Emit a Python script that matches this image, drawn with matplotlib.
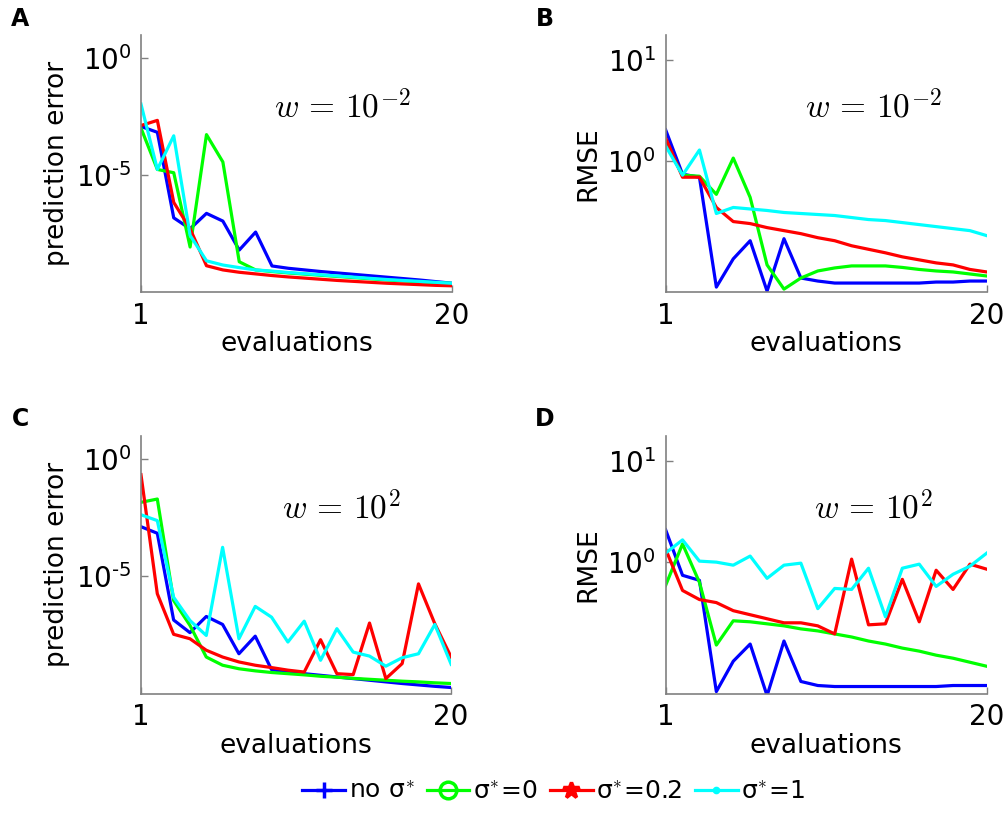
import matplotlib
matplotlib.use('Agg')
import matplotlib.pyplot as plt
import numpy as np

# evaluations 1..20
evals = list(range(1, 21))

# values are log10 of the plotted quantity
# panel A: prediction error, w = 1e-2
a_none = [-2.91, -3.16, -6.82, -7.29, -6.63, -6.96, -8.2, -7.43, -8.88, -8.98,
          -9.05, -9.12, -9.18, -9.24, -9.3, -9.36, -9.42, -9.48, -9.55, -9.62]
a_zero = [-2.98, -4.75, -4.89, -8.07, -3.26, -4.43, -8.7, -9.05, -9.12, -9.18,
          -9.23, -9.28, -9.33, -9.38, -9.43, -9.48, -9.52, -9.56, -9.6, -9.63]
a_02 = [-2.87, -2.65, -6.16, -7.29, -8.87, -9.05, -9.15, -9.22, -9.29, -9.35,
        -9.4, -9.45, -9.5, -9.54, -9.58, -9.62, -9.65, -9.68, -9.71, -9.73]
a_one = [-1.95, -4.75, -3.31, -7.57, -8.66, -8.84, -8.95, -9.05, -9.1, -9.16,
         -9.21, -9.26, -9.31, -9.36, -9.41, -9.46, -9.5, -9.54, -9.58, -9.62]

# panel B: RMSE, w = 1e-2
b_none = [0.31, -0.13, -0.16, -1.25, -0.97, -0.79, -1.29, -0.77, -1.16, -1.19,
          -1.21, -1.21, -1.21, -1.21, -1.21, -1.21, -1.2, -1.2, -1.19, -1.19]
b_zero = [0.18, -0.14, -0.15, -0.33, 0.03, -0.36, -1.03, -1.27, -1.16, -1.09,
          -1.06, -1.04, -1.04, -1.04, -1.055, -1.075, -1.09, -1.1, -1.12, -1.14]
b_02 = [0.23, -0.16, -0.16, -0.46, -0.6, -0.62, -0.66, -0.69, -0.72, -0.76,
        -0.79, -0.84, -0.875, -0.91, -0.95, -0.98, -1.01, -1.03, -1.075, -1.1]
b_one = [0.15, -0.14, 0.11, -0.52, -0.46, -0.475, -0.49, -0.51, -0.52, -0.53,
         -0.54, -0.56, -0.58, -0.59, -0.61, -0.63, -0.65, -0.67, -0.69, -0.74]

# panel C: prediction error, w = 1e2
c_none = [-2.88, -3.16, -6.86, -7.4, -6.71, -7.05, -8.3, -7.55, -8.98, -9.08,
          -9.15, -9.22, -9.29, -9.36, -9.43, -9.5, -9.57, -9.63, -9.69, -9.74]
c_zero = [-1.84, -1.7, -6.03, -7.09, -8.44, -8.79, -8.94, -9.03, -9.1, -9.15,
          -9.2, -9.26, -9.3, -9.35, -9.39, -9.43, -9.47, -9.5, -9.54, -9.57]
c_02 = [-0.66, -5.74, -7.47, -7.66, -8.15, -8.44, -8.65, -8.79, -8.89, -9.0,
        -9.08, -7.7, -9.15, -9.19, -6.99, -9.36, -8.72, -5.32, -7.02, -8.44]
c_one = [-2.37, -2.62, -5.89, -6.88, -7.52, -3.76, -7.66, -6.28, -6.74, -7.8,
         -6.91, -8.58, -7.23, -8.23, -8.4, -8.83, -8.47, -8.3, -7.05, -8.75]

# panel D: RMSE, w = 1e2
d_none = [0.32, -0.13, -0.18, -1.28, -0.98, -0.81, -1.32, -0.78, -1.18, -1.22,
          -1.23, -1.23, -1.23, -1.23, -1.23, -1.23, -1.23, -1.22, -1.22, -1.22]
d_zero = [-0.23, 0.18, -0.2, -0.82, -0.58, -0.59, -0.61, -0.63, -0.66, -0.68,
          -0.71, -0.74, -0.78, -0.81, -0.85, -0.88, -0.92, -0.95, -0.99, -1.03]
d_02 = [0.13, -0.28, -0.37, -0.4, -0.48, -0.52, -0.56, -0.6, -0.6, -0.63,
        -0.71, 0.03, -0.62, -0.61, -0.17, -0.59, -0.08, -0.27, -0.02, -0.07]
d_one = [0.09, 0.22, 0.01, 0.0, -0.03, 0.06, -0.16, -0.03, -0.01, -0.46,
         -0.26, -0.27, -0.06, -0.54, -0.06, -0.02, -0.24, -0.12, -0.04, 0.09]

labels = ['no σ$^{*}$', 'σ$^{*}$=0', 'σ$^{*}$=0.2', 'σ$^{*}$=1']
colors = ['#0000ff', '#00ff00', '#ff0000', '#00ffff']
markers = ['+', 'o', '*', '.']

# tick labels, hyphen in the exponent like the original
err_ticks = [1e-5, 1e0]
err_ticklabels = ['$\\mathdefault{10^{\u20105}}$', '$\\mathdefault{10^{0}}$']
rmse_ticks = [1e0, 1e1]
rmse_ticklabels = ['$\\mathdefault{10^{0}}$', '$\\mathdefault{10^{1}}$']

plt.rcParams['mathtext.fontset'] = 'cm'
plt.rcParams['font.family'] = 'DejaVu Sans'

fig = plt.figure(figsize=(10.07, 8.16), dpi=100)

panels = [
    ('A', [0.140, 0.642, 0.309, 0.315], [a_none, a_zero, a_02, a_one],
     'prediction error', r'$w\,=\,10^{-2}$', (1e-10, 1e1), err_ticks, err_ticklabels),
    ('B', [0.661, 0.642, 0.319, 0.315], [b_none, b_zero, b_02, b_one],
     'RMSE', r'$w\,=\,10^{-2}$', (10**-1.3, 10**1.25), rmse_ticks, rmse_ticklabels),
    ('C', [0.140, 0.150, 0.308, 0.316], [c_none, c_zero, c_02, c_one],
     'prediction error', r'$w\,=\,10^{2}$', (1e-10, 1e1), err_ticks, err_ticklabels),
    ('D', [0.661, 0.150, 0.319, 0.316], [d_none, d_zero, d_02, d_one],
     'RMSE', r'$w\,=\,10^{2}$', (10**-1.3, 10**1.25), rmse_ticks, rmse_ticklabels),
]

for letter, pos, series, ylab, wtext, ylim, yticks, yticklabels in panels:
    ax = fig.add_axes(pos)
    for vals, col in zip(series, colors):
        ax.plot(evals, 10 ** np.array(vals), color=col, lw=2.3)
    ax.set_yscale('log')
    ax.set_ylim(*ylim)
    ax.set_xlim(1, 20)
    ax.set_xticks([1, 20])
    ax.set_yticks(yticks)
    ax.set_yticklabels(yticklabels)
    ax.minorticks_off()
    ax.tick_params(direction='in', length=5, width=1, color='#808080',
                   labelsize=20, pad=7)
    for s in ['top', 'right']:
        ax.spines[s].set_visible(False)
    for s in ['left', 'bottom']:
        ax.spines[s].set_color('#808080')
        ax.spines[s].set_linewidth(1.2)
    ax.set_xlabel('evaluations', fontsize=19, labelpad=1)
    ax.set_ylabel(ylab, fontsize=19, labelpad=4)
    ax.text(0.646, 0.72, wtext, transform=ax.transAxes, fontsize=24,
            ha='center', va='center')
    fig.text(pos[0] - 0.12, pos[1] + pos[3] + 0.02, letter, fontsize=17,
             fontweight='bold', ha='center', va='center')

handles = [plt.Line2D([], [], color=c, lw=2.3, marker=m, markersize=12 if m != '.' else 6,
                      markerfacecolor='none' if m == 'o' else c, markeredgewidth=2.5)
           for c, m in zip(colors, markers)]
fig.legend(handles, labels, loc='lower center', bbox_to_anchor=(0.55, -0.012), ncol=4,
           frameon=False, fontsize=18, handlelength=1.7, handletextpad=0.15,
           columnspacing=0.5)

fig.savefig('out.png', dpi=100)
